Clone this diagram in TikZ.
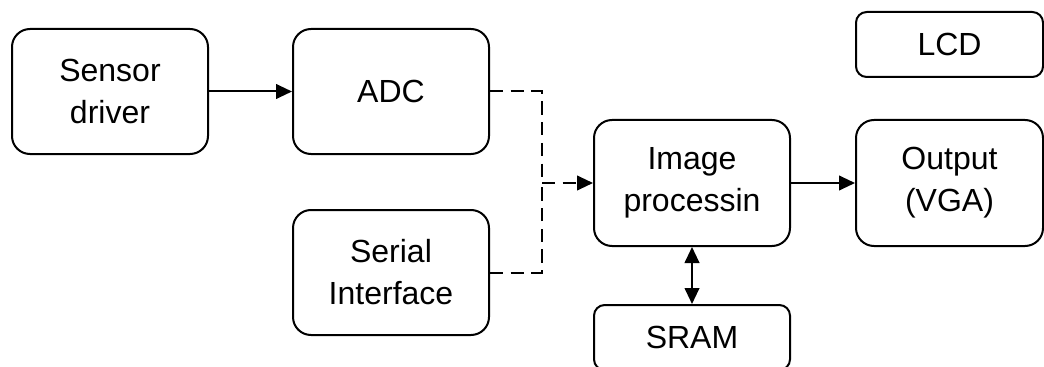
\documentclass[tikz,border=0pt]{standalone}
\usepackage{fontspec}
\setmainfont{Liberation Sans}
\usetikzlibrary{arrows.meta}

\tikzset{
  block/.style={draw=black, line width=1.5pt, rounded corners=13.5pt,
    inner sep=0pt, align=center, font=\fontsize{24pt}{31.5pt}\selectfont},
  smallblock/.style={block, rounded corners=8pt},
  link/.style={line width=1.5pt, -{Triangle[length=12pt,width=11pt]}},
  duallink/.style={line width=1.5pt, {Triangle[length=12pt,width=11pt]}-{Triangle[length=12pt,width=11pt]}},
  dashlink/.style={line width=1.5pt, dash pattern=on 10pt off 5.5pt},
}

\begin{document}
\begin{tikzpicture}[x=0.75pt, y=-0.75pt]
  \useasboundingbox (0,0) rectangle (1044,367);
  \clip (0,0) rectangle (1044,367);

  \node[block, minimum width=147pt, minimum height=93.75pt] (sensor) at (110,91.5) {Sensor\\driver};
  \node[block, minimum width=147pt, minimum height=93.75pt] (adc) at (391,91.5) {ADC};
  \node[block, minimum width=147pt, minimum height=93.75pt] (serial) at (391,272.5) {Serial\\Interface};
  \node[block, minimum width=147pt, minimum height=94.5pt] (proc) at (692,183) {Image\\processin};
  \node[block, minimum width=140.25pt, minimum height=94.5pt] (out) at (949.5,183) {Output\\(VGA)};
  \node[smallblock, minimum width=140.25pt, minimum height=48.75pt] (lcd) at (949.5,44.5) {LCD};
  \node[smallblock, minimum width=147pt, minimum height=48.75pt] (sram) at (692,337.5) {SRAM};

  \coordinate (junc) at (542,183);

  \draw[link] (sensor.east) -- (adc.west);
  \draw[dashlink] (adc.east) -| (junc);
  \draw[dashlink] (serial.east) -| (junc);
  \draw[dashlink, -{Triangle[length=12pt,width=11pt]}] (junc) -- (proc.west);
  \draw[link] (proc.east) -- (out.west);
  \draw[duallink] (proc.south) -- (sram.north);
\end{tikzpicture}
\end{document}
